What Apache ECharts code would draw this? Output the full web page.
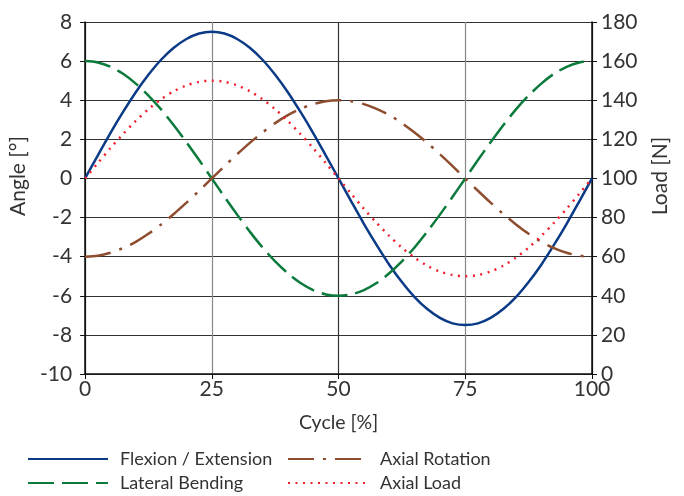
<!DOCTYPE html>
<html><head><meta charset="utf-8">
<script src="https://cdn.jsdelivr.net/npm/echarts@6/dist/echarts.min.js"></script>
<style>html,body{margin:0;padding:0;background:#fff}#c{width:684px;height:496px}</style>
</head><body><div id="c"></div>
<script>
const cycle = [0,2.5,5,7.5,10,12.5,15,17.5,20,22.5,25,27.5,30,32.5,35,37.5,40,42.5,45,47.5,50,52.5,55,57.5,60,62.5,65,67.5,70,72.5,75,77.5,80,82.5,85,87.5,90,92.5,95,97.5,100];
const flexionExtension = [0,1.17,2.32,3.40,4.41,5.30,6.07,6.68,7.13,7.41,7.5,7.41,7.13,6.68,6.07,5.30,4.41,3.40,2.32,1.17,0,-1.17,-2.32,-3.40,-4.41,-5.30,-6.07,-6.68,-7.13,-7.41,-7.5,-7.41,-7.13,-6.68,-6.07,-5.30,-4.41,-3.40,-2.32,-1.17,0];
const lateralBending = [6,5.93,5.71,5.35,4.85,4.24,3.53,2.72,1.85,0.94,0,-0.94,-1.85,-2.72,-3.53,-4.24,-4.85,-5.35,-5.71,-5.93,-6,-5.93,-5.71,-5.35,-4.85,-4.24,-3.53,-2.72,-1.85,-0.94,0,0.94,1.85,2.72,3.53,4.24,4.85,5.35,5.71,5.93,6];
const axialRotation = [-4,-3.95,-3.8,-3.56,-3.24,-2.83,-2.35,-1.82,-1.24,-0.63,0,0.63,1.24,1.82,2.35,2.83,3.24,3.56,3.8,3.95,4,3.95,3.8,3.56,3.24,2.83,2.35,1.82,1.24,0.63,0,-0.63,-1.24,-1.82,-2.35,-2.83,-3.24,-3.56,-3.8,-3.95,-4];
const axialLoad = [100,107.8,115.5,122.7,129.4,135.4,140.5,144.6,147.6,149.4,150,149.4,147.6,144.6,140.5,135.4,129.4,122.7,115.5,107.8,100,92.2,84.5,77.3,70.6,64.6,59.5,55.4,52.4,50.6,50,50.6,52.4,55.4,59.5,64.6,70.6,77.3,84.5,92.2,100];
const xTicks = [0,25,50,75,100];
const names = ['Flexion / Extension','Lateral Bending','Axial Rotation','Axial Load'];

const FONT = "Lato, sans-serif";
const TXT = '#333';
const pair = a => cycle.map((x,i)=>[x,a[i]]);
const legendBase = (name,left,top)=>({
  data:[name], left:left, top:top, itemWidth:80, itemHeight:14, padding:0,
  itemStyle:{opacity:0},
  textStyle:{fontFamily:FONT,fontSize:18,color:TXT,padding:[0,0,0,7]}
});
const chart = echarts.init(document.getElementById('c'));
chart.setOption({
  animation:false,
  textStyle:{fontFamily:FONT},
  grid:{left:83,right:92,top:22,bottom:122},
  legend:[
    legendBase(names[0],27,450),
    legendBase(names[1],27,474),
    legendBase(names[2],287,450),
    legendBase(names[3],287,474)
  ],
  xAxis:{type:'value',min:0,max:100,interval:25,
    name:'Cycle [%]',nameLocation:'middle',nameGap:39,
    nameTextStyle:{fontFamily:FONT,fontSize:19.5,color:TXT},
    axisLine:{onZero:false,lineStyle:{color:'#111',width:1.5}},
    axisTick:{show:true,length:5,lineStyle:{color:'#111'}},
    axisLabel:{fontFamily:FONT,fontSize:21,color:TXT,margin:5,
      formatter:v=>xTicks.includes(v)?String(v):''},
    splitLine:{show:true,lineStyle:{color:['#111','#888','#333','#888','#111'],width:1.2}}
  },
  yAxis:[
    {type:'value',min:-10,max:8,interval:2,position:'left',
      name:'Angle [°]',nameLocation:'middle',nameGap:52,nameRotate:90,
      nameTextStyle:{fontFamily:FONT,fontSize:21,color:TXT,padding:[0,0,0,44]},
      axisLine:{show:true,onZero:false,lineStyle:{color:'#111',width:1.5}},
      axisTick:{show:true,length:5,lineStyle:{color:'#111'}},
      axisLabel:{fontFamily:FONT,fontSize:21,color:TXT,margin:13},
      splitLine:{show:true,lineStyle:{color:'#333',width:1.2}}
    },
    {type:'value',min:0,max:180,interval:20,position:'right',
      name:'Load [N]',nameLocation:'middle',nameGap:58,nameRotate:90,
      nameTextStyle:{fontFamily:FONT,fontSize:21,color:TXT,padding:[0,0,0,44]},
      axisLine:{show:true,onZero:false,lineStyle:{color:'#111',width:1.5}},
      axisTick:{show:true,length:5,lineStyle:{color:'#111'}},
      axisLabel:{fontFamily:FONT,fontSize:21,color:TXT,margin:9},
      splitLine:{show:false}
    }
  ],
  series:[
    {name:names[0],type:'line',data:pair(flexionExtension),smooth:0.3,symbol:'none',
      lineStyle:{color:'#0b3a86',width:2.5,type:'solid'},itemStyle:{color:'#0b3a86'}},
    {name:names[1],type:'line',data:pair(lateralBending),smooth:0.3,symbol:'none',
      lineStyle:{color:'#0b7a3b',width:2.5,type:[26,8]},itemStyle:{color:'#0b7a3b'}},
    {name:names[2],type:'line',data:pair(axialRotation),smooth:0.3,symbol:'none',
      lineStyle:{color:'#8e4d2f',width:2.5,type:[26,9,3,9]},itemStyle:{color:'#8e4d2f'}},
    {name:names[3],type:'line',yAxisIndex:1,data:pair(axialLoad),smooth:0.3,symbol:'none',
      lineStyle:{color:'#f0202e',width:2.5,type:[2,5.5]},itemStyle:{color:'#f0202e'}}
  ]
});
</script></body></html>
